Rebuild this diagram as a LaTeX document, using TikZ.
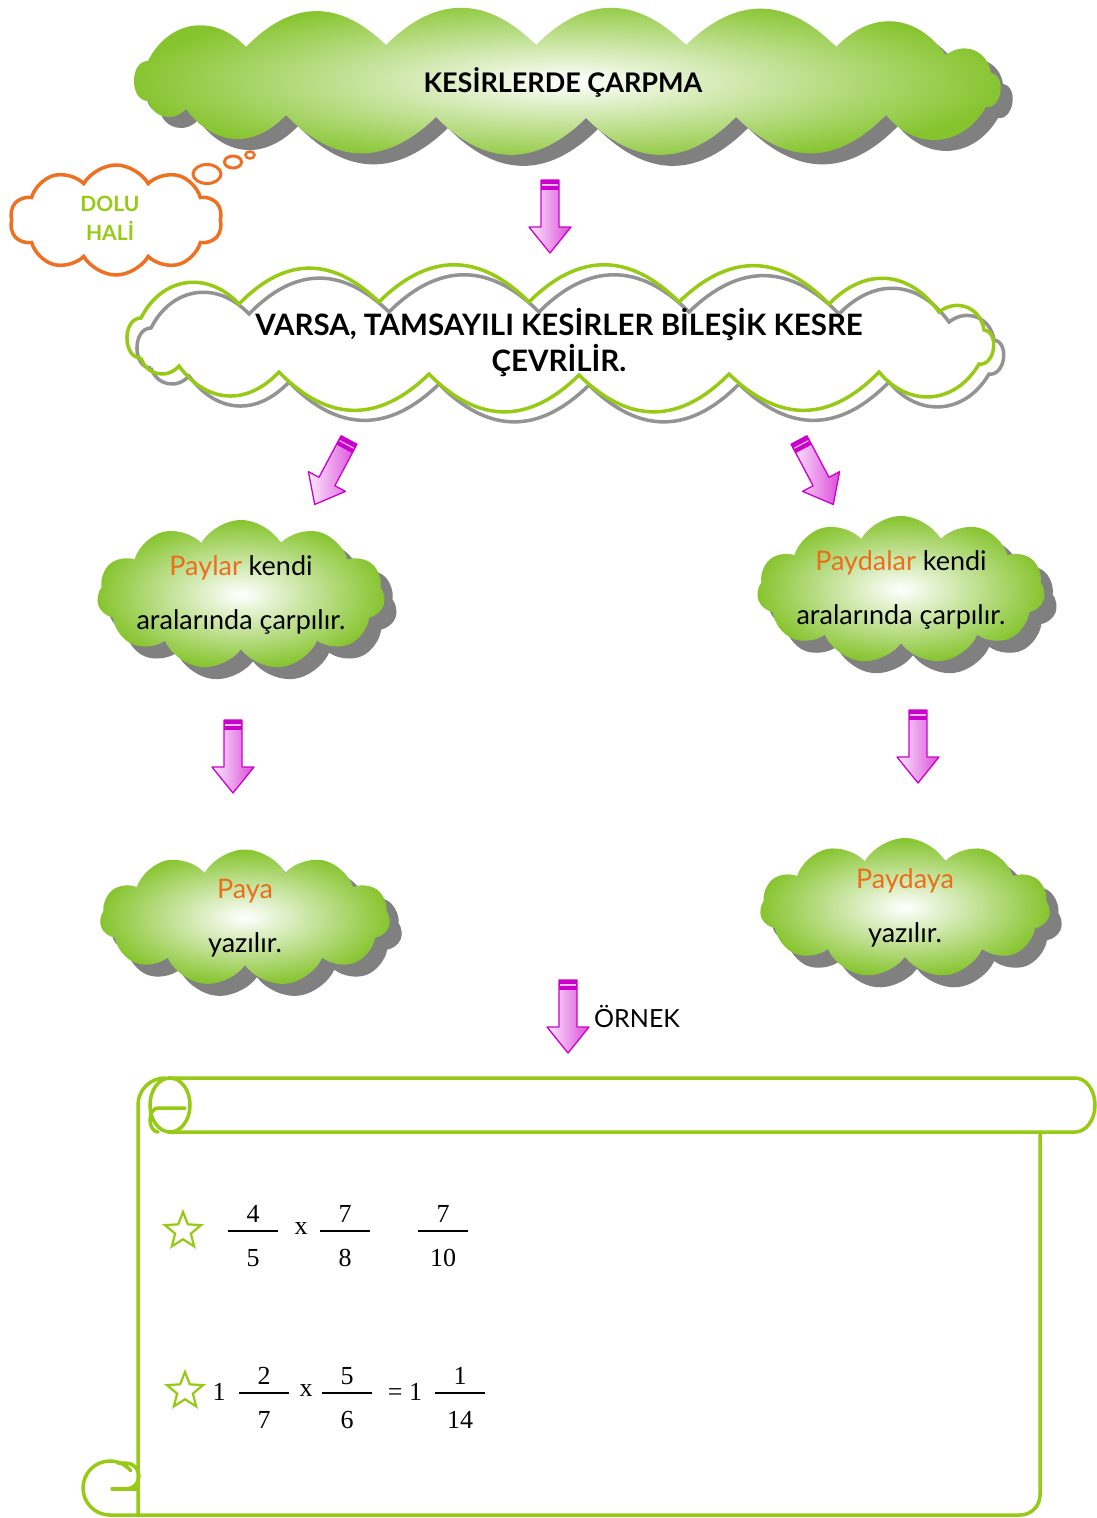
\documentclass[tikz,border=0pt]{standalone}
\usepackage{fontspec}
\setmainfont{Lato}
\newfontfamily\sayiyazi{Liberation Serif}
\usetikzlibrary{shapes.symbols,shapes.geometric,shadows,positioning}

\definecolor{cloudgreen}{RGB}{134,196,46}
\definecolor{linegreen}{RGB}{150,202,20}
\definecolor{shadowgray}{RGB}{128,128,128}
\definecolor{thinkorange}{RGB}{238,112,32}
\definecolor{wordorange}{RGB}{234,110,28}
\definecolor{arrowmag}{RGB}{204,0,204}

\newcommand{\baslikyazi}{\bfseries\fontsize{27}{35}\selectfont}
\newcommand{\kuralyazi}{\fontsize{27}{54}\selectfont}
\newcommand{\turuncu}[1]{\textcolor{wordorange}{#1}}

% puffs of the wide clouds: x/y of the next point, bend of the puff
\def\genisbulut{-418/-18/90, -320/-32/55, -180/-34/45, -30/-34/45, 120/-34/45, 270/-32/45,
  380/-24/50, 425/-6/60, 420/28/90, 320/36/55, 170/38/45, 20/39/45, -130/38/45, -280/36/45,
  -380/30/50, -418/22/60}
\newcommand{\genisyol}{(-418,22) foreach \x/\y/\b in \genisbulut {to[bend left=\b, looseness=1.2] (\x,\y)}}

% fraction: name, x, y of the bar, numerator, denominator
\newcommand{\kesir}[5]{%
  \node[sayi] (#1-pay) at (#2,#3-17) {#4};
  \draw[line width=1.5pt] (#2-25,#3) -- (#2+25,#3);
  \node[sayi] (#1-payda) at (#2,#3+27) {#5};
}

\tikzset{
  greencloud/.style={cloud, cloud puffs=11, cloud puff arc=120, cloud ignores aspect,
    shade, inner color=white, outer color=cloudgreen, draw=none,
    drop shadow={shadow xshift=12pt, shadow yshift=-12pt, fill=shadowgray, opacity=1}},
  thinkcloud/.style={cloud, cloud puffs=10, cloud puff arc=120, cloud ignores aspect,
    draw=thinkorange, line width=3.5pt, fill=white},
  bubble/.style={ellipse, draw=thinkorange, line width=3pt, fill=white, inner sep=0pt},
  kural/.style={align=center, font=\kuralyazi, inner sep=0pt},
  sayi/.style={font=\sayiyazi\fontsize{26}{26}\selectfont, inner sep=1pt},
  yildiz/.style={star, star points=5, star point ratio=2.3, draw=linegreen, line width=2.2pt,
    minimum size=38pt, inner sep=0pt},
  pics/fatarrow/.style={code={
    \shade[draw=arrowmag, line width=1.3pt, line join=round,
      left color=arrowmag!8, right color=arrowmag!70]
      (-9,0) -- (9,0) -- (9,47) -- (21,47) -- (0,73) -- (-21,47) -- (-9,47) -- cycle;
    \fill[arrowmag] (-9,0) rectangle (9,10);
    \draw[arrowmag!25, line width=1.2pt] (-8,5) -- (8,5);
  }}
}

\begin{document}
\begin{tikzpicture}[x=1pt, y=-1pt]
  \fill[white] (0,0) rectangle (1097,1518);
  \useasboundingbox (0,0) rectangle (1097,1518);

  % title cloud
  \begin{scope}[shift={(566,79)}]
    \fill[shadowgray, shift={(12,11)}] \genisyol;
    \shade[inner color=white, outer color=cloudgreen] \genisyol;
  \end{scope}
  \node[font=\baslikyazi] (baslik) at (563,82) {KESİRLERDE ÇARPMA};

  % thought bubble
  \node[thinkcloud, minimum width=212pt, minimum height=110pt] (dolu) at (116,220) {};
  \node[align=center, text=linegreen, font=\bfseries\fontsize{21}{29}\selectfont] (doluyazi)
    at (110,218) {DOLU\\HALİ};
  \node[bubble, minimum width=28pt, minimum height=19pt] (kabarcik1) at (207,174) {};
  \node[bubble, minimum width=17pt, minimum height=12pt] (kabarcik2) at (233,162) {};
  \node[bubble, minimum width=9pt, minimum height=7pt, line width=2.5pt] (kabarcik3) at (250,155) {};

  % mixed numbers to improper fractions: gray and green outlines
  \begin{scope}[line width=3.5pt]
    \draw[shadowgray!85, shift={(569,346)}] \genisyol;
    \draw[linegreen, shift={(559,336)}] \genisyol;
  \end{scope}
  \node[font=\bfseries\fontsize{29.5}{36}\selectfont, align=center] (cevir)
    at (559,343) {VARSA, TAMSAYILI KESİRLER BİLEŞİK KESRE\\ÇEVRİLİR.};

  % the two rules
  \node[greencloud, minimum width=288pt, minimum height=150pt] (paylar) at (241,595) {};
  \node[kural] (paylaryazi) at (paylar.center) {\turuncu{Paylar} kendi\\aralarında çarpılır.};
  \node[greencloud, minimum width=288pt, minimum height=148pt] (paydalar) at (901,590) {};
  \node[kural] (paydalaryazi) at (paydalar.center) {\turuncu{Paydalar} kendi\\aralarında çarpılır.};
  \node[greencloud, minimum width=290pt, minimum height=137pt] (paya) at (245,918) {};
  \node[kural] (payayazi) at (paya.center) {\turuncu{Paya}\\yazılır.};
  \node[greencloud, minimum width=290pt, minimum height=140pt] (paydaya) at (905,908) {};
  \node[kural] (paydayayazi) at (paydaya.center) {\turuncu{Paydaya}\\yazılır.};

  % arrows
  \pic at (550,180) {fatarrow};
  \pic[rotate=-28] at (349,440) {fatarrow};
  \pic[rotate=28] at (799,440) {fatarrow};
  \pic at (233,720) {fatarrow};
  \pic at (918,710) {fatarrow};
  \pic at (568,980) {fatarrow};
  \node[anchor=west, font=\fontsize{25}{30}\selectfont, inner sep=0pt] (ornek) at (594,1016) {ÖRNEK};

  % scroll
  \begin{scope}[draw=linegreen, line width=3.5pt, line cap=round, line join=round]
    \draw (168,1078) -- (1075,1078) arc[start angle=-90, end angle=90, x radius=20, y radius=27] -- (168,1132);
    \draw (165,1078) arc[start angle=270, end angle=180, radius=27] -- (138,1515);
    \draw (170,1105) ellipse[x radius=20, y radius=27];
    \draw (185,1108) -- (158,1108) arc[start angle=270, end angle=90, x radius=8, y radius=12];
    \draw (1040,1132) -- (1040,1495) arc[start angle=0, end angle=90, radius=20] -- (110,1515);
    \draw (110,1515) arc[start angle=90, end angle=320, radius=27];
    \draw (112,1489) -- (138,1489);
    \draw (118,1463) -- (126,1463) arc[start angle=270, end angle=450, radius=13];
  \end{scope}

  % first example
  \node[yildiz] (yildiz1) at (183,1231) {};
  \kesir{k1}{253}{1231}{4}{5}
  \node[sayi] (carp1) at (301,1229) {x};
  \kesir{k2}{345}{1231}{7}{8}
  \kesir{k3}{443}{1231}{7}{10}

  % second example
  \node[yildiz] (yildiz2) at (185,1391) {};
  \node[sayi] (tam1) at (219,1392) {1};
  \kesir{k4}{264}{1393}{2}{7}
  \node[sayi] (carp2) at (306,1391) {x};
  \kesir{k5}{347}{1393}{5}{6}
  \node[sayi] (esit) at (405,1392) {= 1};
  \kesir{k6}{460}{1393}{1}{14}
\end{tikzpicture}
\end{document}
